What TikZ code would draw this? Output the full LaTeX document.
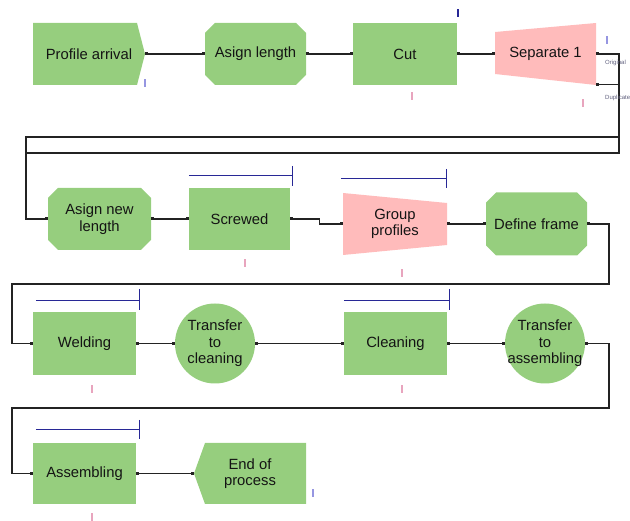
\documentclass[tikz,border=0pt]{standalone}
\usepackage{fontspec}
\setmainfont{Liberation Sans}
\usetikzlibrary{arrows.meta}
\definecolor{boxgreen}{RGB}{150,206,126}
\definecolor{boxpink}{RGB}{255,187,187}
\definecolor{barblue}{RGB}{40,40,150}
\definecolor{wirecol}{RGB}{35,35,35}
\definecolor{markpink}{RGB}{232,165,190}
\definecolor{markblue}{RGB}{150,150,225}
\definecolor{labgray}{RGB}{95,95,125}
\begin{document}
\begin{tikzpicture}[x=1pt,y=-1pt,
  every node/.style={font=\fontsize{14.8}{16.5}\selectfont, text=black!92, align=center, inner sep=1pt},
  base/.style={rectangle, minimum height=62pt},
  rectbox/.style={base, fill=boxgreen},
  octo/.style={base, path picture={\fill[boxgreen]
      ([xshift=10pt]path picture bounding box.north west) -- ([xshift=-10pt]path picture bounding box.north east) --
      ([yshift=-10pt]path picture bounding box.north east) -- ([yshift=10pt]path picture bounding box.south east) --
      ([xshift=-10pt]path picture bounding box.south east) -- ([xshift=10pt]path picture bounding box.south west) --
      ([yshift=10pt]path picture bounding box.south west) -- ([yshift=-10pt]path picture bounding box.north west) -- cycle;}},
  pentR/.style={base, path picture={\fill[boxgreen]
      (path picture bounding box.north west) -- ([xshift=-8pt]path picture bounding box.north east) --
      (path picture bounding box.east) -- ([xshift=-8pt]path picture bounding box.south east) --
      (path picture bounding box.south west) -- cycle;}},
  pentL/.style={base, path picture={\fill[boxgreen]
      (path picture bounding box.west) -- ([xshift=11pt]path picture bounding box.north west) --
      (path picture bounding box.north east) -- (path picture bounding box.south east) --
      ([xshift=11pt]path picture bounding box.south west) -- cycle;}},
  trapR/.style={base, path picture={\fill[boxpink]
      ([yshift=-9pt]path picture bounding box.north west) -- (path picture bounding box.north east) --
      (path picture bounding box.south east) -- ([yshift=11pt]path picture bounding box.south west) -- cycle;}},
  trapL/.style={base, path picture={\fill[boxpink]
      (path picture bounding box.north west) -- ([yshift=-10pt]path picture bounding box.north east) --
      ([yshift=10pt]path picture bounding box.south east) -- (path picture bounding box.south west) -- cycle;}},
  circbox/.style={rectangle, minimum width=80pt, minimum height=80pt, path picture={\fill[boxgreen]
      (path picture bounding box.center) circle (40pt);}},
  wire/.style={draw=wirecol, line width=1.2pt, arrows={Square[length=3pt,width=3pt]-Square[length=3pt,width=3pt]}},
  wireS/.style={draw=wirecol, line width=1.2pt, arrows={Square[length=3pt,width=3pt]-}},
  bar/.style={draw=barblue, line width=1.1pt},
  smalllab/.style={font=\fontsize{6}{7}\selectfont, text=labgray, anchor=west, inner sep=0pt}
]
\useasboundingbox (0,0) rectangle (630,521);

% Row 1
\node[pentR, minimum width=112pt] (pa) at (89,54) {Profile arrival};
\node[octo, minimum width=101pt] (al) at (255.5,54) {Asign length};
\node[rectbox, minimum width=104pt] (cut) at (405,54) {Cut};
\node[trapR, minimum width=101pt] (sep) at (545.5,54) {Separate 1};

% Row 2
\node[octo, minimum width=103pt] (anl) at (99.5,219) {Asign new\\length};
\node[rectbox, minimum width=101pt] (scr) at (239.5,219) {Screwed};
\node[trapL, minimum width=104pt] (grp) at (395,224) {Group\\profiles};
\node[octo, minimum width=101pt, minimum height=63pt] (def) at (536.5,224) {Define frame};

% Row 3
\node[rectbox, minimum width=103pt, minimum height=63pt] (wel) at (84.5,343.5) {Welding};
\node[circbox] (tc) at (215,343.5) {Transfer\\to\\cleaning};
\node[rectbox, minimum width=103pt, minimum height=63pt] (cln) at (395.5,343.5) {Cleaning};
\node[circbox] (ta) at (545,343.5) {Transfer\\to\\assembling};

% Row 4
\node[rectbox, minimum width=103pt, minimum height=61pt] (asm) at (84.5,473.5) {Assembling};
\node[pentL, minimum width=112pt, minimum height=61pt] (eop) at (250,473.5) {End of\\process};

% bend coordinates
\coordinate (b1R) at (619,137);
\coordinate (b1L) at (26,137);
\coordinate (b2R) at (619,153);
\coordinate (b2L) at (26,153);
\coordinate (b3R) at (609,284);
\coordinate (b3L) at (12,284);
\coordinate (b4R) at (609,408);
\coordinate (b4L) at (12,408);

% connectors
\draw[wire] (pa.east) -- (al.west);
\draw[wire] (al.east) -- (cut.west);
\draw[wire] (cut.east) -- (sep.west);
\draw[wire] (sep.east) -| (b1R) -- (b1L) |- (anl.west);
\draw[wireS] ([yshift=1pt]sep.south east) -| (b2R) -- (b2L);
\draw[wire] (anl.east) -- (scr.west);
\draw[wire] (scr.east) -- ++(29,0) |- (grp.west);
\draw[wire] (grp.east) -- (def.west);
\draw[wire] (def.east) -| (b3R) -- (b3L) |- (wel.west);
\draw[wire] (wel.east) -- (tc.west);
\draw[wire] (tc.east) -- (cln.west);
\draw[wire] (cln.east) -- (ta.west);
\draw[wire] (ta.east) -| (b4R) -- (b4L) |- (asm.west);
\draw[wire] (asm.east) -- (eop.west);

% output labels of Separate 1
\begin{scope}
\clip (598,0) rectangle (630,521);
\node[smalllab] (lorig) at (605,63) {Original};
\node[smalllab] (ldup) at (605,98) {Duplicate};
\end{scope}

% resource bars
\draw[bar] ([yshift=12pt]scr.north west) -- ([xshift=2pt,yshift=12pt]scr.north east) coordinate (sb);
\draw[bar] ([yshift=10pt]sb) -- ([yshift=-10pt]sb);
\draw[bar] ([xshift=-2pt,yshift=14pt]grp.north west) -- ([xshift=-1pt,yshift=14pt]grp.north east) coordinate (gb);
\draw[bar] ([yshift=10pt]gb) -- ([yshift=-9pt]gb);
\draw[bar] ([xshift=3pt,yshift=11pt]wel.north west) -- ([xshift=3pt,yshift=11pt]wel.north east) coordinate (wb);
\draw[bar] ([yshift=12pt]wb) -- ([yshift=-9pt]wb);
\draw[bar] ([yshift=11pt]cln.north west) -- ([xshift=2pt,yshift=11pt]cln.north east) coordinate (cb);
\draw[bar] ([yshift=12pt]cb) -- ([yshift=-9pt]cb);
\draw[bar] ([xshift=3pt,yshift=13pt]asm.north west) -- ([xshift=3pt,yshift=13pt]asm.north east) coordinate (ab);
\draw[bar] ([yshift=10pt]ab) -- ([yshift=-9pt]ab);

% tiny markers
\fill[markblue] (144,79) rectangle (146,87);
\fill[markpink] (411,92) rectangle (413,100);
\fill[barblue] (457,9) rectangle (459,17);
\fill[markblue] (606,36) rectangle (608,44);
\fill[markpink] (582,99) rectangle (584,107);
\fill[markpink] (244,259) rectangle (246,267);
\fill[markpink] (401,269) rectangle (403,277);
\fill[markpink] (91,385) rectangle (93,393);
\fill[markpink] (401,385) rectangle (403,393);
\fill[markpink] (91,513) rectangle (93,521);
\fill[markblue] (312,489) rectangle (314,497);
\end{tikzpicture}
\end{document}
